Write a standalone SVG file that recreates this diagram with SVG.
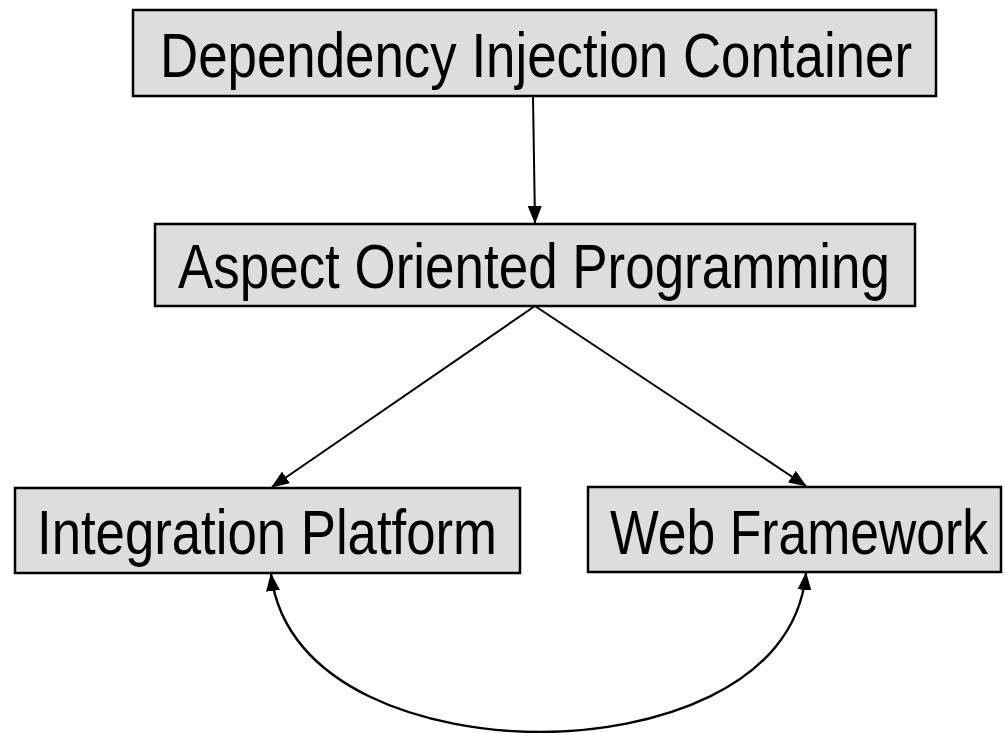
<svg xmlns="http://www.w3.org/2000/svg" width="1005" height="733" viewBox="0 0 1005 733">
  <style>
    .box { fill: #dddddd; stroke: #000000; stroke-width: 2.5; }
    .label { font-family: "Liberation Sans", Arial, sans-serif; font-size: 52px; fill: #000000; }
    .edge { fill: none; stroke: #000000; stroke-width: 2; }
    .curve { fill: none; stroke: #000000; stroke-width: 2.4; }
  </style>
  <defs>
    <marker id="arrow" viewBox="0 0 18 14" refX="17" refY="7" markerWidth="18" markerHeight="14" markerUnits="userSpaceOnUse" orient="auto-start-reverse">
      <path d="M0,0 L18,7 L0,14 Z" fill="#000000"/>
    </marker>
  </defs>

  <g id="connectors">
    <line class="edge" x1="533" y1="97" x2="535" y2="223" marker-end="url(#arrow)"/>
    <line class="edge" x1="535" y1="306" x2="272" y2="487" marker-end="url(#arrow)"/>
    <line class="edge" x1="535" y1="306" x2="806" y2="486" marker-end="url(#arrow)"/>
    <path class="curve" d="M271,574 C285,690 430,732 540,732 C650,732 795,690 806,573" marker-start="url(#arrow)" marker-end="url(#arrow)"/>
  </g>

  <!-- labels are drawn narrow and tall: 52px wide glyphs stretched vertically -->
  <g id="node-di-container">
    <rect class="box" x="133" y="10" width="803" height="86"/>
    <text class="label" transform="translate(160,77) scale(1,1.22)" textLength="752" lengthAdjust="spacingAndGlyphs">Dependency Injection Container</text>
  </g>

  <g id="node-aop">
    <rect class="box" x="155" y="224" width="760" height="82"/>
    <text class="label" transform="translate(178,288) scale(1,1.22)" textLength="712" lengthAdjust="spacingAndGlyphs">Aspect Oriented Programming</text>
  </g>

  <g id="node-integration">
    <rect class="box" x="15" y="488" width="505" height="85"/>
    <text class="label" transform="translate(37,554) scale(1,1.22)" textLength="460" lengthAdjust="spacingAndGlyphs">Integration Platform</text>
  </g>

  <g id="node-web">
    <rect class="box" x="588" y="487" width="413" height="85"/>
    <text class="label" transform="translate(610,554) scale(1,1.22)" textLength="378" lengthAdjust="spacingAndGlyphs">Web Framework</text>
  </g>
</svg>
